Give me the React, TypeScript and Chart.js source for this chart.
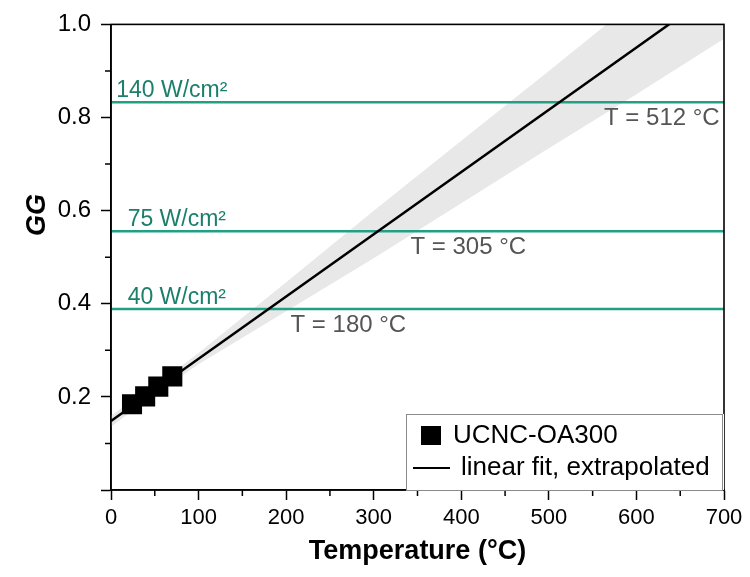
import React, { useEffect, useRef } from "react";
import { Chart, registerables } from "chart.js";

Chart.register(...registerables);

// Measured data points (UCNC-OA300)
const sampleT = [24, 39, 54, 70];
const sampleGG = [0.184, 0.201, 0.222, 0.244];

// Linear fit, extrapolated (end points)
const fitT = [0, 700];
const fitGG = [0.148, 1.084];

// Confidence band of the fit
const bandT = [0, 50, 100, 200, 300, 400, 500, 600, 700];
const bandUpper = [0.16, 0.224, 0.294, 0.446, 0.6, 0.75, 0.9, 1.052, 1.2];
const bandLower = [0.136, 0.206, 0.27, 0.384, 0.498, 0.616, 0.734, 0.85, 0.969];

// Power-density levels
const powerLabels = ["140 W/cm²", "75 W/cm²", "40 W/cm²"];
const powerGG = [0.833, 0.556, 0.389];
const powerLabelT = [6, 19, 19];
const crossingTemps = [512, 305, 180];
const crossingLabelT = [563, 342, 205];

// Axis ticks
const xTickStep = 100;
const yTickStep = 0.2;
const xMinorTicks = [50, 150, 250, 350, 450, 550, 650];
const yMinorTicks = [0.1, 0.3, 0.5, 0.7, 0.9];

const legendLabels = ["UCNC-OA300", "linear fit, extrapolated"];

const FONT = "'Liberation Sans', Arial, Helvetica, sans-serif";
const GREEN_LINE = "#22a085";
const GREEN_TEXT = "#1b7f6b";

const pts = (xs: number[], ys: number[]) => xs.map((x, i) => ({ x, y: ys[i] }));

const decorPlugin = {
  id: "decor",
  afterDatasetsDraw(chart: any) {
    const ctx = chart.ctx;
    const ca = chart.chartArea;
    const xs = chart.scales.x;
    const ys = chart.scales.y;
    ctx.save();

    // level labels
    ctx.textAlign = "left";
    ctx.textBaseline = "alphabetic";
    powerLabels.forEach((lab, i) => {
      ctx.font = `23px ${FONT}`;
      ctx.fillStyle = GREEN_TEXT;
      ctx.fillText(lab, xs.getPixelForValue(powerLabelT[i]), ys.getPixelForValue(powerGG[i]) - 5);
      ctx.fillStyle = "#555555";
      ctx.font = `24px ${FONT}`;
      ctx.fillText(
        `T = ${crossingTemps[i]} °C`,
        xs.getPixelForValue(crossingLabelT[i]),
        ys.getPixelForValue(powerGG[i]) + 23
      );
    });

    // frame
    ctx.strokeStyle = "#000";
    ctx.lineWidth = 1.6;
    ctx.strokeRect(ca.left, ca.top, ca.right - ca.left, ca.bottom - ca.top);

    // minor ticks
    ctx.lineWidth = 1.5;
    ctx.beginPath();
    xMinorTicks.forEach((v) => {
      const px = xs.getPixelForValue(v);
      ctx.moveTo(px, ca.bottom);
      ctx.lineTo(px, ca.bottom + 6);
    });
    yMinorTicks.forEach((v) => {
      const py = ys.getPixelForValue(v);
      ctx.moveTo(ca.left, py);
      ctx.lineTo(ca.left - 6, py);
    });
    ctx.stroke();

    // legend box
    const lw = 318;
    const lh = 76;
    const lx = ca.right - lw;
    const ly = ca.bottom - lh;
    ctx.fillStyle = "#fff";
    ctx.fillRect(lx, ly, lw, lh);
    ctx.strokeStyle = "#8a8a8a";
    ctx.lineWidth = 1;
    ctx.strokeRect(lx + 0.5, ly + 0.5, lw - 2, lh);
    ctx.fillStyle = "#000";
    ctx.fillRect(lx + 15, ly + 12, 20, 19);
    ctx.font = `26px ${FONT}`;
    ctx.textBaseline = "middle";
    ctx.fillText(legendLabels[0], lx + 47, ly + 22);
    ctx.strokeStyle = "#000";
    ctx.lineWidth = 2;
    ctx.beginPath();
    ctx.moveTo(lx + 7, ly + 54);
    ctx.lineTo(lx + 44, ly + 54);
    ctx.stroke();
    ctx.fillText(legendLabels[1], lx + 55, ly + 54);

    // axis titles
    ctx.fillStyle = "#000";
    ctx.textAlign = "center";
    ctx.font = `bold 27px ${FONT}`;
    ctx.fillText("Temperature (°C)", (ca.left + ca.right) / 2, 552);
    ctx.save();
    ctx.translate(38, 215);
    ctx.rotate(-Math.PI / 2);
    ctx.font = `italic bold 27px ${FONT}`;
    ctx.fillText("GG", 0, 0);
    ctx.restore();

    ctx.restore();
  },
};

export default function App() {
  const ref = useRef<HTMLCanvasElement | null>(null);

  useEffect(() => {
    if (!ref.current) return;
    const chart = new Chart(ref.current, {
      type: "scatter",
      data: {
        datasets: [
          {
            label: legendLabels[0],
            data: pts(sampleT, sampleGG),
            pointStyle: "rect",
            pointRadius: 14.2,
            backgroundColor: "#000",
            borderColor: "#000",
            borderWidth: 0,
          },
          {
            label: legendLabels[1],
            data: pts(fitT, fitGG),
            showLine: true,
            borderColor: "#000",
            borderWidth: 2.5,
            pointRadius: 0,
          },
          ...powerGG.map((g) => ({
            label: "level",
            data: pts([0, 700], [g, g]),
            showLine: true,
            borderColor: GREEN_LINE,
            borderWidth: 2.5,
            pointRadius: 0,
          })),
          {
            label: "lower",
            data: pts(bandT, bandLower),
            showLine: true,
            borderWidth: 0,
            borderColor: "rgba(0,0,0,0)",
            pointRadius: 0,
          },
          {
            label: "upper",
            data: pts(bandT, bandUpper),
            showLine: true,
            borderWidth: 0,
            borderColor: "rgba(0,0,0,0)",
            pointRadius: 0,
            fill: "-1",
            backgroundColor: "#e8e8e8",
          },
        ],
      },
      options: {
        responsive: false,
        animation: false,
        layout: { padding: { top: 23, right: 26, left: 0, bottom: 0 } },
        plugins: {
          legend: { display: false },
          tooltip: { enabled: false },
        },
        scales: {
          x: {
            type: "linear",
            min: 0,
            max: 700,
            afterFit: (s: any) => {
              s.height = 87;
            },
            grid: {
              drawOnChartArea: false,
              drawTicks: true,
              tickLength: 10,
              tickColor: "#000",
              tickWidth: 1.5,
            },
            border: { display: true, color: "#000", width: 1.6 },
            ticks: {
              stepSize: xTickStep,
              color: "#000",
              font: { family: FONT, size: 22 },
              padding: 5,
              maxRotation: 0,
              autoSkip: false,
            },
          },
          y: {
            type: "linear",
            min: 0,
            max: 1,
            afterFit: (s: any) => {
              s.width = 111;
            },
            grid: {
              drawOnChartArea: false,
              drawTicks: true,
              tickLength: 10,
              tickColor: "#000",
              tickWidth: 1.5,
            },
            border: { display: true, color: "#000", width: 1.6 },
            ticks: {
              stepSize: yTickStep,
              color: "#000",
              font: { family: FONT, size: 24 },
              padding: 10,
              callback: (v: any) => (Math.abs(v) < 1e-9 ? "" : Number(v).toFixed(1)),
            },
          },
        },
      },
      plugins: [decorPlugin],
    });
    return () => chart.destroy();
  }, []);

  return (
    <div style={{ position: "absolute", left: 0, top: 0, width: 750, height: 577, background: "#fff" }}>
      <canvas ref={ref} width={750} height={577} />
    </div>
  );
}
